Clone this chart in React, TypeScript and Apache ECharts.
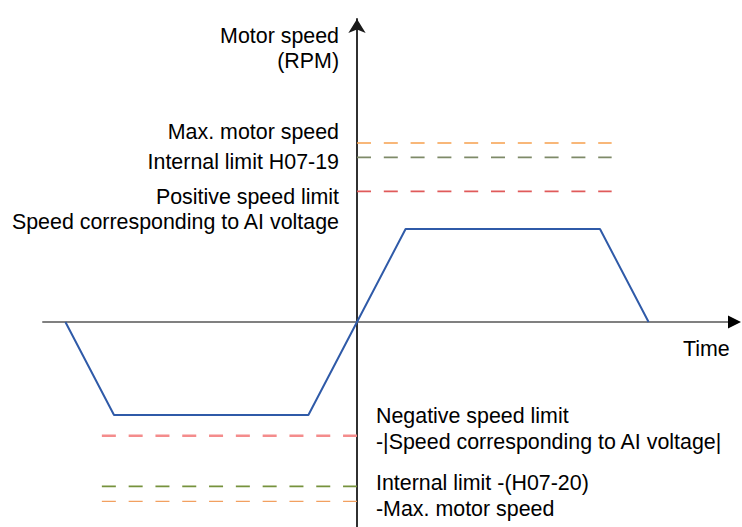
import React, { useEffect, useRef } from "react";
import * as echarts from "echarts";

// Time points and motor speed (relative units, 100 = speed corresponding to AI voltage)
const timePoints = [-6, -5, -1, 0, 1, 5, 6];
const motorSpeed = [0, -100, -100, 0, 100, 100, 0];

// Horizontal limit levels
const posLimitNames = ["Max. motor speed", "Internal limit H07-19", "Positive speed limit"];
const posLimitValues = [192.5, 177, 140.5];
const posLimitRange = [0, 5.24];

const negLimitNames = ["Negative speed limit", "Internal limit -(H07-20)", "-Max. motor speed"];
const negLimitValues = [-122.3, -176.7, -192.8];
const negLimitRange = [-5.25, 0];

const posColors = ["#F6A04D", "#7E8A68", "#E05A5A"];
const posWidths = [1.6, 1.6, 1.8];
const negColors = ["#F48C8C", "#76923C", "#F2A060"];
const negWidths = [2.4, 1.6, 1.4];

const FONT = "'Liberation Sans', Arial, sans-serif";
const FS = 21.4;

export default function App() {
  const ref = useRef<HTMLDivElement>(null);
  useEffect(() => {
    if (!ref.current) return;
    const chart = echarts.init(ref.current, undefined, { renderer: "svg" });

    const limitSeries: any[] = [];
    posLimitValues.forEach((v, i) => {
      limitSeries.push({
        name: posLimitNames[i],
        type: "line",
        data: posLimitRange.map((t) => [t, v]),
        symbol: "none",
        silent: true,
        lineStyle: { color: posColors[i], width: posWidths[i], type: [14, 12.8] },
        z: 1,
      });
    });
    negLimitValues.forEach((v, i) => {
      limitSeries.push({
        name: negLimitNames[i],
        type: "line",
        data: negLimitRange.map((t) => [t, v]),
        symbol: "none",
        silent: true,
        lineStyle: { color: negColors[i], width: negWidths[i], type: [14, 12.8] },
        z: 1,
      });
    });

    const txt = (text: string, x: number, y: number, align: string) => ({
      type: "text",
      x,
      y,
      silent: true,
      style: {
        text,
        fontSize: FS,
        fontFamily: FONT,
        fill: "#000",
        align,
        verticalAlign: "middle",
      },
    });

    chart.setOption({
      animation: false,
      backgroundColor: "#ffffff",
      grid: { left: 43, right: 7, top: 19, bottom: 0, containLabel: false },
      xAxis: {
        type: "value",
        min: -6.461,
        max: 7.778,
        axisLine: { onZero: true, lineStyle: { color: "#808080", width: 2 } },
        axisTick: { show: false },
        axisLabel: { show: false },
        splitLine: { show: false },
      },
      yAxis: {
        type: "value",
        min: -220.4,
        max: 325.8,
        axisLine: {
          onZero: true,
          symbol: ["none", "arrow"],
          symbolSize: [13, 14],
          lineStyle: { color: "#1a1a1a", width: 1.8 },
        },
        axisTick: { show: false },
        axisLabel: { show: false },
        splitLine: { show: false },
      },
      series: [
        ...limitSeries,
        {
          name: "Motor speed",
          type: "line",
          data: timePoints.map((t, i) => [t, motorSpeed[i]]),
          symbol: "none",
          silent: true,
          lineStyle: { color: "#2F5AA8", width: 2 },
          z: 3,
        },
      ],
      graphic: [
        {
          type: "polygon",
          silent: true,
          shape: { points: [[741, 322], [728, 315.5], [728, 328.5]] },
          style: { fill: "#000" },
          z: 10,
        },
        txt("Motor speed", 339, 36, "right"),
        txt("(RPM)", 339, 61, "right"),
        txt("Max. motor speed", 339, 131.5, "right"),
        txt("Internal limit H07-19", 339, 162, "right"),
        txt("Positive speed limit", 339, 196.5, "right"),
        txt("Speed corresponding to AI voltage", 339, 221.5, "right"),
        txt("Time", 683, 349, "left"),
        txt("Negative speed limit", 376, 416, "left"),
        txt("-|Speed corresponding to AI voltage|", 376, 441.5, "left"),
        txt("Internal limit -(H07-20)", 376, 482.5, "left"),
        txt("-Max. motor speed", 376, 508.5, "left"),
      ],
    });
    return () => chart.dispose();
  }, []);
  return (
    <div
      ref={ref}
      style={{ position: "absolute", left: 0, top: 0, width: 742, height: 527 }}
    />
  );
}
